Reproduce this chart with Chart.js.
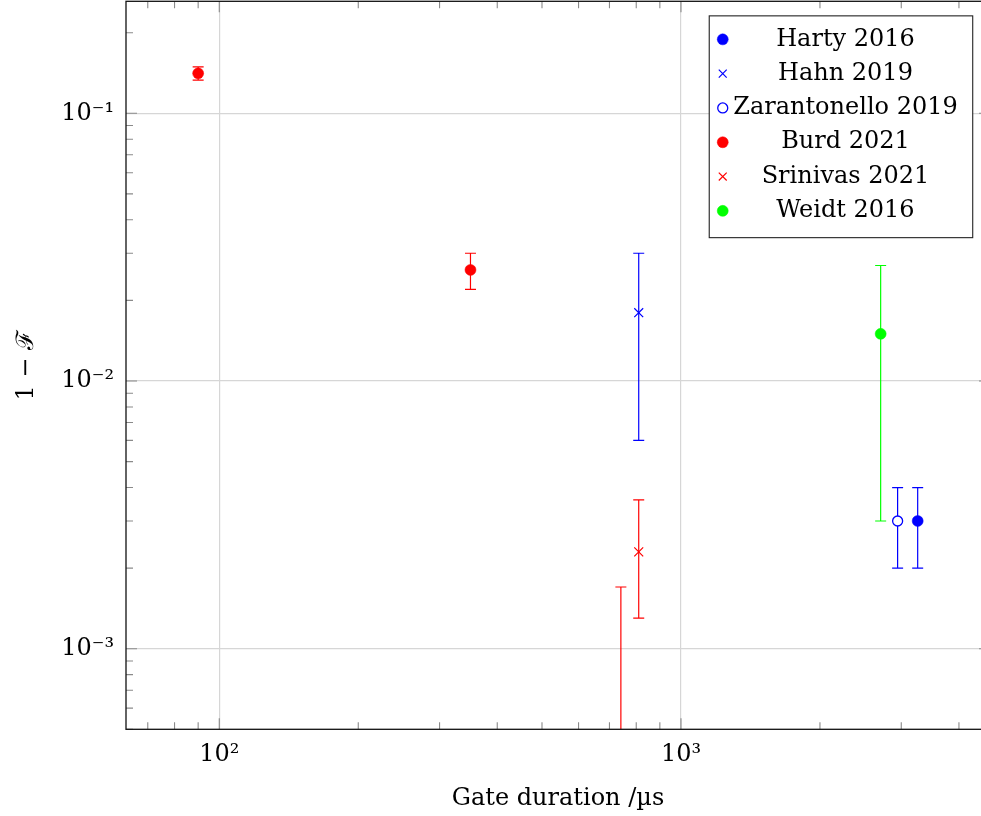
<!DOCTYPE html>
<html><head><meta charset="utf-8">
<script src="https://cdn.jsdelivr.net/npm/chart.js@4/dist/chart.umd.min.js"></script>
<style>html,body{margin:0;padding:0;overflow:hidden;background:#fff;} #wrap{width:990px;height:816px;position:relative;}</style>
</head><body><div id="wrap"><canvas id="c" width="990" height="816"></canvas></div>
<script>
// ---- data ----
const seriesNames = ['Harty 2016','Hahn 2019','Zarantonello 2019','Burd 2021','Srinivas 2021','Weidt 2016'];
const seriesColors = ['#0000ff','#0000ff','#0000ff','#ff0000','#ff0000','#00ff00'];
const hartyX = [3256], hartyY = [0.003], hartyLow = [0.002], hartyHigh = [0.004];
const hahnX = [810], hahnY = [0.018], hahnLow = [0.006], hahnHigh = [0.030];
const zarantonelloX = [2946], zarantonelloY = [0.003], zarantonelloLow = [0.002], zarantonelloHigh = [0.004];
const burdX = [90, 350], burdY = [0.141, 0.026], burdLow = [0.133, 0.022], burdHigh = [0.149, 0.030];
const srinivasX = [741, 810], srinivasY = [0.0003, 0.0023], srinivasLow = [0.0001, 0.0013], srinivasHigh = [0.0017, 0.0036];
const weidtX = [2707], weidtY = [0.015], weidtLow = [0.003], weidtHigh = [0.027];
const xTickValues = [100, 1000], xTickLabels = ['10²', '10³'];
const yTickValues = [0.001, 0.01, 0.1], yTickLabels = ['10⁻³', '10⁻²', '10⁻¹'];
const xRange = [62.8, 4670], yRange = [0.0005, 0.262];
const xTitle = 'Gate duration /µs', yTitle = '1 − ℱ';

function pts(xs, ys, lo, hi){ return xs.map((x,i)=>({x:x, y:ys[i], yLow:lo[i], yHigh:hi[i]})); }

const FONT = "'DejaVu Serif', 'Liberation Serif', serif";
Chart.defaults.font.family = FONT;
Chart.defaults.font.size = 24;
Chart.defaults.color = '#000';

const styles = [
  {pointStyle:'circle', radius:5.5, borderWidth:0.5, fill:true},
  {pointStyle:'crossRot', radius:6.3, borderWidth:1.2, fill:false},
  {pointStyle:'circle', radius:5, borderWidth:1.3, fill:false},
  {pointStyle:'circle', radius:5.5, borderWidth:0.5, fill:true},
  {pointStyle:'crossRot', radius:6.3, borderWidth:1.2, fill:false},
  {pointStyle:'circle', radius:5.5, borderWidth:0.5, fill:true}
];
const allData = [
  pts(hartyX, hartyY, hartyLow, hartyHigh),
  pts(hahnX, hahnY, hahnLow, hahnHigh),
  pts(zarantonelloX, zarantonelloY, zarantonelloLow, zarantonelloHigh),
  pts(burdX, burdY, burdLow, burdHigh),
  pts(srinivasX, srinivasY, srinivasLow, srinivasHigh),
  pts(weidtX, weidtY, weidtLow, weidtHigh)
];
const datasets = seriesNames.map((n,i)=>({
  label:n, data:allData[i],
  borderColor:seriesColors[i],
  backgroundColor: styles[i].fill ? seriesColors[i] : '#ffffff',
  pointStyle:styles[i].pointStyle, pointRadius:styles[i].radius,
  pointBorderWidth:styles[i].borderWidth, showLine:false
}));

const errorBars = {
  id:'errorBars',
  beforeDatasetDraw(chart, args){
    const ds = chart.data.datasets[args.index];
    const xs = chart.scales.x, ys = chart.scales.y, ca = chart.chartArea, ctx = chart.ctx;
    ctx.save();
    ctx.beginPath(); ctx.rect(ca.left, ca.top, ca.right-ca.left, ca.bottom-ca.top); ctx.clip();
    ctx.strokeStyle = ds.borderColor; ctx.lineWidth = 1.2;
    ds.data.forEach(p=>{
      const px = xs.getPixelForValue(p.x);
      const y1 = ys.getPixelForValue(p.yHigh), y2 = ys.getPixelForValue(p.yLow);
      ctx.beginPath();
      ctx.moveTo(px,y1); ctx.lineTo(px,y2);
      ctx.moveTo(px-5.5,y1); ctx.lineTo(px+5.5,y1);
      ctx.moveTo(px-5.5,y2); ctx.lineTo(px+5.5,y2);
      ctx.stroke();
    });
    ctx.restore();
  }
};

function minorValues(min, max){
  const out = [];
  for(let e=Math.floor(Math.log10(min)); e<=Math.ceil(Math.log10(max)); e++){
    for(let k=1;k<=9;k++){ const v=k*Math.pow(10,e); if(v>=min && v<=max) out.push({v:v, major:k===1}); }
  }
  return out;
}

const frameTicks = {
  id:'frameTicks',
  afterDatasetsDraw(chart){
    const ctx = chart.ctx, ca = chart.chartArea, xs = chart.scales.x, ys = chart.scales.y;
    ctx.save();
    ctx.lineWidth = 1.1;
    ctx.strokeStyle = '#8a8a8a';
    minorValues(xRange[0], xRange[1]).forEach(t=>{
      const px = xs.getPixelForValue(t.v), L = t.major ? 11 : 7;
      ctx.beginPath();
      ctx.moveTo(px, ca.bottom); ctx.lineTo(px, ca.bottom-L);
      ctx.moveTo(px, ca.top); ctx.lineTo(px, ca.top+L);
      ctx.stroke();
    });
    minorValues(yRange[0], yRange[1]).forEach(t=>{
      const py = ys.getPixelForValue(t.v), L = t.major ? 11 : 7;
      ctx.beginPath();
      ctx.moveTo(ca.left, py); ctx.lineTo(ca.left+L, py);
      ctx.moveTo(ca.right, py); ctx.lineTo(ca.right-L, py);
      ctx.stroke();
    });
    ctx.strokeStyle = '#111'; ctx.lineWidth = 1.3;
    ctx.strokeRect(ca.left, ca.top, ca.right-ca.left, ca.bottom-ca.top);
    ctx.restore();
  }
};

const boxLegend = {
  id:'boxLegend',
  afterDraw(chart){
    const ctx = chart.ctx, ca = chart.chartArea;
    ctx.save();
    ctx.font = '24px ' + FONT;
    const tw = Math.max(...seriesNames.map(n=>ctx.measureText(n).width));
    const rowH = 34.3;
    const w = 24 + tw + 15, h = rowH*seriesNames.length + 16;
    const right = ca.right - 0.02*(ca.right-ca.left), top = ca.top + 0.02*(ca.bottom-ca.top);
    const left = right - w;
    ctx.fillStyle = '#fff'; ctx.fillRect(left, top, w, h);
    ctx.strokeStyle = '#222'; ctx.lineWidth = 1.1; ctx.strokeRect(left, top, w, h);
    seriesNames.forEach((n,i)=>{
      const cy = top + 23.5 + i*rowH;
      const st = styles[i];
      ctx.fillStyle = st.fill ? seriesColors[i] : '#fff';
      ctx.strokeStyle = seriesColors[i];
      ctx.lineWidth = st.borderWidth;
      Chart.helpers.drawPoint(ctx, {pointStyle:st.pointStyle, radius: st.pointStyle==='crossRot'?5.6:st.radius, borderWidth:st.borderWidth, rotation:0}, left+13.5, cy);
      ctx.fillStyle = '#000'; ctx.textAlign = 'center'; ctx.textBaseline = 'middle';
      ctx.fillText(n, left + 24 + tw/2, cy);
    });
    ctx.restore();
  }
};

function noPad(s){ s.paddingTop = 0; s.paddingBottom = 0; s.paddingLeft = 0; s.paddingRight = 0; }

new Chart(document.getElementById('c'), {
  type:'scatter',
  data:{datasets:datasets},
  plugins:[errorBars, frameTicks, boxLegend],
  options:{
    responsive:false, animation:false, events:[],
    layout:{autoPadding:false, padding:{top:1.3, right:0, left:0, bottom:0}},
    plugins:{legend:{display:false}, tooltip:{enabled:false}},
    scales:{
      x:{
        type:'logarithmic', position:'bottom', min:xRange[0], max:xRange[1],
        afterBuildTicks:s=>{ s.ticks = xTickValues.map(v=>({value:v})); },
        afterFit:s=>{ s.height = 86.7; noPad(s); },
        ticks:{ callback:(v)=>xTickLabels[xTickValues.indexOf(v)], maxRotation:0, autoSkip:false, padding:11, color:'#000' },
        grid:{ color:'#d6d6d6', lineWidth:1.2, drawTicks:false },
        border:{ display:false },
        title:{ display:true, text:xTitle, color:'#000', padding:{top:0, bottom:3} }
      },
      y:{
        type:'logarithmic', position:'left', min:yRange[0], max:yRange[1],
        afterBuildTicks:s=>{ s.ticks = yTickValues.map(v=>({value:v})); },
        afterFit:s=>{ s.width = 126; noPad(s); },
        ticks:{ callback:(v)=>yTickLabels[yTickValues.indexOf(v)], autoSkip:false, padding:12, color:'#000' },
        grid:{ color:'#d6d6d6', lineWidth:1.2, drawTicks:false },
        border:{ display:false },
        title:{ display:true, text:yTitle, color:'#000', padding:{top:12, bottom:0} }
      }
    }
  }
});
</script></body></html>
